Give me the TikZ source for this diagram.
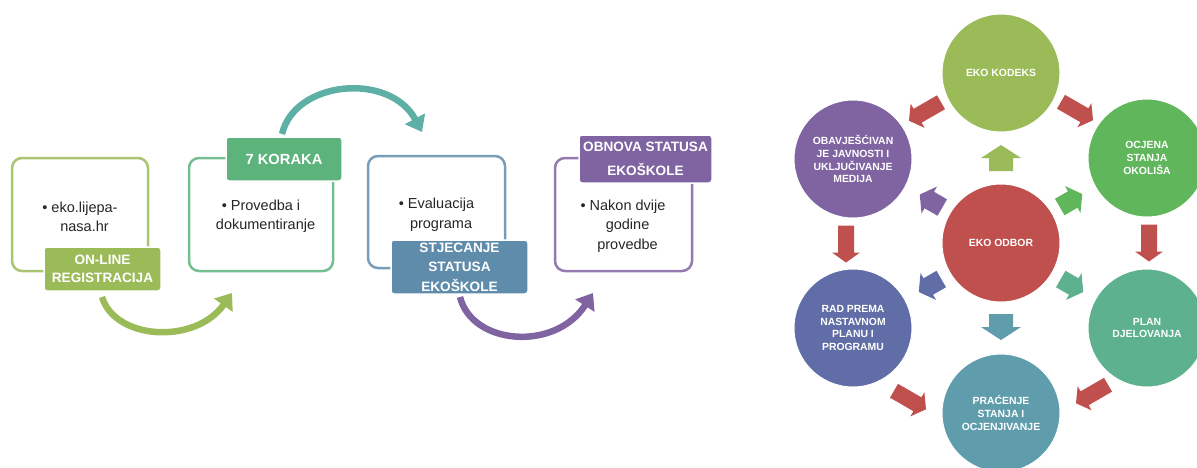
\documentclass[tikz,border=0pt]{standalone}
\usepackage{fontspec}
\setmainfont{Liberation Sans}
\usetikzlibrary{arrows.meta,calc}

\definecolor{maslinasta}{HTML}{9BBB59}
\definecolor{zelena}{HTML}{60B65B}
\definecolor{zelena2}{HTML}{5CB37C}
\definecolor{tirkiz}{HTML}{5EB0A6}
\definecolor{tirkizna}{HTML}{5DB18E}
\definecolor{cijan}{HTML}{5F9DAC}
\definecolor{celicna}{HTML}{608CAB}
\definecolor{plava}{HTML}{616DA7}
\definecolor{ljubicasta}{HTML}{8064A2}
\definecolor{crvena}{HTML}{C0504D}

% position, angle, colour, length, shaft, head, head length
\newcommand{\FatArrow}[7]{%
	\fill[#3, shift={#1}, rotate=#2]
		(-#4/2,-#5/2) -- ({#4/2-#7},-#5/2) -- ({#4/2-#7},-#6/2) -- (#4/2,0)
		-- ({#4/2-#7},#6/2) -- ({#4/2-#7},#5/2) -- (-#4/2,#5/2) -- cycle;}
\newcommand{\RedArrow}[2]{\FatArrow{#1}{#2}{crvena}{37}{16}{28}{10}}

\begin{document}
\begin{tikzpicture}[x=1pt, y=-1pt,
	okvir/.style={rectangle, rounded corners=10pt, line width=2.5pt, fill=white, inner sep=0pt},
	oznaka/.style={rectangle, rounded corners=3pt, draw=white, line width=1.5pt, text=white, inner sep=0pt, align=center, font=\bfseries\fontsize{13.6}{18}\selectfont},
	tekst/.style={inner sep=0pt, align=center, text=black!85, font=\fontsize{14.5}{19.3}\selectfont},
	krug/.style={circle, minimum size=118pt, inner sep=0pt, draw=white, line width=1pt, text=white, align=center, font=\bfseries\fontsize{10.4}{12.8}\selectfont},
	luk/.style={line width=6.5pt, -{Triangle[length=15pt, width=22pt]}}]
	\useasboundingbox (0,0) rectangle (1197,467);
	% lijevo: koraci
	\coordinate (a1) at (232,293);
	\coordinate (a2) at (422,132);
	\coordinate (a3) at (593,293);
	\draw[luk, maslinasta] (102,297) .. controls (115,340) and (195,345) .. (a1);
	\draw[luk, tirkiz] (282,134) .. controls (295,80) and (390,72) .. (a2);
	\draw[luk, ljubicasta] (460,297) .. controls (472,345) and (555,352) .. (a3);

	\node[okvir, draw=maslinasta!85!white, minimum width=136pt, minimum height=113pt] (k1) at (80,214.5) {};
	\node[okvir, draw=zelena2!85!white, minimum width=144pt, minimum height=113pt] (k2) at (261,214.5) {};
	\node[okvir, draw=celicna!85!white, minimum width=137pt, minimum height=112pt] (k3) at (436.5,212) {};
	\node[okvir, draw=ljubicasta!85!white, minimum width=137pt, minimum height=113pt] (k4) at (623.5,214.5) {};

	\node[tekst] (t1) at (80,216.5) {\textbullet\ eko.lijepa-\\\hphantom{\textbullet\ }nasa.hr};
	\node[tekst] (t2) at (261,216.2) {\textbullet\ Provedba i\\\hphantom{\textbullet\ }dokumentiranje};
	\node[tekst] (t3) at (436.5,214.7) {\textbullet\ Evaluacija\\\hphantom{\textbullet\ }programa};
	\node[tekst] (t4) at (623,226.2) {\textbullet\ Nakon dvije\\\hphantom{\textbullet\ }godine\\\hphantom{\textbullet\ }provedbe};

	\node[oznaka, fill=maslinasta, minimum width=117pt, minimum height=44pt] (registracija) at (102.5,269) {ON-LINE\\REGISTRACIJA};
	\node[oznaka, fill=zelena2, minimum width=116pt, minimum height=44pt, font=\bfseries\fontsize{14.7}{18}\selectfont] (koraci) at (284,159) {7 KORAKA};
	\node[oznaka, fill=celicna, minimum width=137pt, minimum height=54pt, font=\bfseries\fontsize{13.6}{19.5}\selectfont] (stjecanje) at (459.5,267) {STJECANJE\\STATUSA\\EKOŠKOLE};
	\node[oznaka, fill=ljubicasta, minimum width=133pt, minimum height=48pt, font=\bfseries\fontsize{13.6}{24}\selectfont] (obnova) at (645.5,159) {OBNOVA STATUSA\\EKOŠKOLE};

	% desno: krugovi
	\node[krug, fill=maslinasta] (kodeks) at (1001,73) {EKO KODEKS};
	\node[krug, fill=zelena] (okolis) at (1147,158) {OCJENA\\STANJA\\OKOLIŠA};
	\node[krug, fill=ljubicasta] (obav) at (853,159) {OBAVJEŠĆIVAN\\JE JAVNOSTI I\\UKLJUČIVANJE\\MEDIJA};
	\node[krug, fill=crvena] (odbor) at (1001,243) {EKO ODBOR};
	\node[krug, fill=plava] (rad) at (853,328) {RAD PREMA\\NASTAVNOM\\PLANU I\\PROGRAMU};
	\node[krug, fill=tirkizna] (plan) at (1147,328) {PLAN\\DJELOVANJA};
	\node[krug, fill=cijan] (pracenje) at (1001,413) {PRAĆENJE\\STANJA I\\OCJENJIVANJE};

	\RedArrow{($(kodeks)!.5!(obav)+(-2,-4.5)$)}{210}
	\RedArrow{($(kodeks)!.5!(okolis)+(3,-4.5)$)}{-30}
	\RedArrow{($(obav)!.5!(rad)+(-7,0.5)$)}{-90}
	\RedArrow{($(okolis)!.5!(plan)+(2,0)$)}{-90}
	\RedArrow{($(rad)!.5!(pracenje)+(-17,29.5)$)}{-30}
	\RedArrow{($(plan)!.5!(pracenje)+(18,23.5)$)}{210}

	\FatArrow{($(odbor)!.5!(kodeks)$)}{90}{maslinasta}{26}{24}{40}{13}
	\FatArrow{($(odbor)!.5!(pracenje)+(0,-1)$)}{-90}{cijan}{26}{24}{40}{13}
	\FatArrow{($(odbor)!.5!(obav)+(4,0)$)}{150}{ljubicasta}{26}{19}{31}{11}
	\FatArrow{($(odbor)!.5!(okolis)+(-3,0)$)}{30}{zelena}{26}{19}{31}{11}
	\FatArrow{($(odbor)!.5!(rad)+(3,0)$)}{210}{plava}{26}{19}{31}{11}
	\FatArrow{($(odbor)!.5!(plan)+(-2,0)$)}{-30}{tirkizna}{26}{19}{31}{11}
\end{tikzpicture}
\end{document}
